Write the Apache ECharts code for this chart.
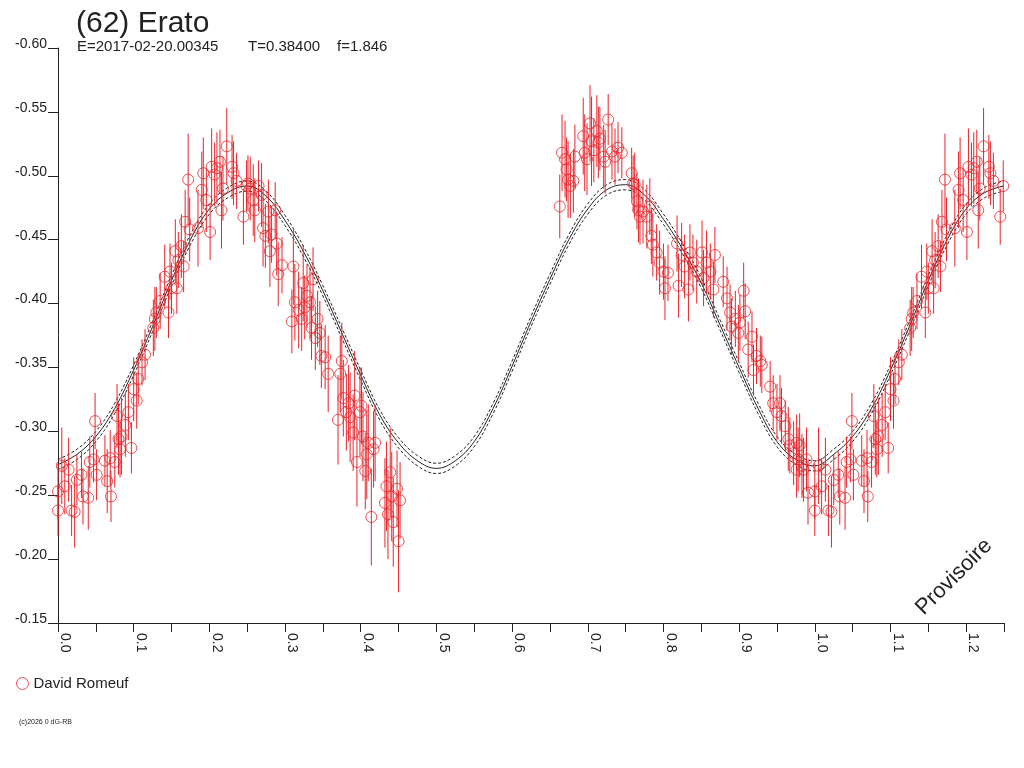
<!DOCTYPE html>
<html>
<head>
<meta charset="utf-8">
<title>(62) Erato</title>
<script src="https://cdn.jsdelivr.net/npm/echarts@6/dist/echarts.min.js"></script>
<style>
  html, body { margin: 0; padding: 0; background: #fff; }
  #chart { width: 1024px; height: 768px; }
</style>
</head>
<body>
<div id="chart"></div>
<script>
// observations (phase 0..1), magnitude, error
const obsPhase = [
  0.000, 0.000, 0.005, 0.009, 0.014, 0.018, 0.022, 0.025, 0.031, 0.033, 0.040, 0.042, 0.047, 0.049, 0.051, 0.062,
  0.065, 0.069, 0.070, 0.075, 0.078, 0.080, 0.082, 0.084, 0.089, 0.093, 0.097, 0.100, 0.104, 0.106, 0.111, 0.115,
  0.126, 0.128, 0.130, 0.135, 0.141, 0.146, 0.148, 0.150, 0.155, 0.157, 0.159, 0.163, 0.166, 0.168, 0.172, 0.174,
  0.185, 0.190, 0.192, 0.196, 0.201, 0.203, 0.207, 0.210, 0.214, 0.216, 0.218, 0.223, 0.230, 0.232, 0.236, 0.245, 0.249,
  0.251, 0.254, 0.258, 0.260, 0.265, 0.269, 0.271, 0.274, 0.278, 0.280, 0.282, 0.287, 0.289, 0.291, 0.296, 0.309,
  0.311, 0.313, 0.318, 0.322, 0.324, 0.326, 0.329, 0.333, 0.335, 0.337, 0.340, 0.343, 0.346, 0.348, 0.353, 0.357,
  0.370, 0.373, 0.375, 0.377, 0.381, 0.384, 0.386, 0.390, 0.392, 0.395, 0.399, 0.401, 0.403, 0.406, 0.408, 0.410,
  0.414, 0.417, 0.419, 0.432, 0.434, 0.436, 0.439, 0.441, 0.443, 0.448, 0.450, 0.452,
  0.663, 0.666, 0.670, 0.672, 0.674, 0.677, 0.681, 0.683, 0.694, 0.696, 0.699, 0.703, 0.705, 0.708, 0.712, 0.714,
  0.716, 0.721, 0.723, 0.727, 0.732, 0.736, 0.740, 0.745, 0.758, 0.760, 0.762, 0.765, 0.767, 0.769, 0.773, 0.778,
  0.782, 0.784, 0.786, 0.791, 0.795, 0.800, 0.802, 0.806, 0.818, 0.820, 0.824, 0.828, 0.833, 0.835, 0.839, 0.844,
  0.851, 0.853, 0.857, 0.862, 0.866, 0.868, 0.879, 0.884, 0.888, 0.890, 0.895, 0.899, 0.901, 0.906, 0.908, 0.912,
  0.917, 0.919, 0.923, 0.928, 0.930, 0.941, 0.945, 0.950, 0.954, 0.956, 0.961, 0.965, 0.967, 0.972, 0.976, 0.978,
  0.976, 0.980, 0.983, 0.985, 0.989, 0.991
];
const obsMag = [
  -0.238, -0.253, -0.273, -0.257, -0.270, -0.238, -0.237, -0.262, -0.266, -0.249, -0.248, -0.276, -0.278, -0.308, -0.266, -0.277,
  -0.261, -0.279, -0.249, -0.276, -0.312, -0.294, -0.286, -0.296, -0.305, -0.315, -0.287, -0.333, -0.324, -0.341, -0.354, -0.360,
  -0.381, -0.388, -0.393, -0.402, -0.421, -0.393, -0.425, -0.412, -0.441, -0.412, -0.434, -0.445, -0.429, -0.464, -0.497, -0.458,
  -0.459, -0.489, -0.502, -0.481, -0.456, -0.507, -0.501, -0.506, -0.511, -0.473, -0.490, -0.523, -0.507, -0.502, -0.496, -0.468, -0.492,
  -0.494, -0.490, -0.481, -0.473, -0.492, -0.485, -0.459, -0.453, -0.472, -0.441, -0.454, -0.473, -0.447, -0.423, -0.430, -0.386,
  -0.429, -0.401, -0.395, -0.388, -0.416, -0.397, -0.406, -0.401, -0.381, -0.419, -0.373, -0.388, -0.377, -0.359, -0.358, -0.345,
  -0.309, -0.345, -0.355, -0.326, -0.315, -0.322, -0.311, -0.299, -0.328, -0.276, -0.315, -0.320, -0.296, -0.269, -0.282, -0.291,
  -0.233, -0.286, -0.291, -0.244, -0.257, -0.235, -0.268, -0.249, -0.229, -0.255, -0.214, -0.246,
  -0.476, -0.518, -0.513, -0.505, -0.497, -0.492, -0.496, -0.515, -0.531, -0.518, -0.513, -0.541, -0.527, -0.520, -0.535, -0.526,
  -0.529, -0.515, -0.511, -0.544, -0.519, -0.515, -0.522, -0.518, -0.502, -0.494, -0.493, -0.480, -0.473, -0.468, -0.472, -0.468,
  -0.476, -0.453, -0.446, -0.440, -0.432, -0.425, -0.412, -0.424, -0.447, -0.414, -0.438, -0.429, -0.411, -0.440, -0.432, -0.425,
  -0.440, -0.420, -0.432, -0.425, -0.411, -0.438, -0.417, -0.404, -0.393, -0.382, -0.388, -0.377, -0.385, -0.410, -0.394, -0.364,
  -0.374, -0.348, -0.359, -0.355, -0.352, -0.335, -0.322, -0.315, -0.322, -0.312, -0.304, -0.294, -0.289, -0.283, -0.291, -0.278,
  -0.270, -0.289, -0.273, -0.270, -0.278, -0.252
];
const obsErr = [
  0.020, 0.022, 0.030, 0.022, 0.025, 0.020, 0.028, 0.020, 0.018, 0.022, 0.025, 0.020, 0.018, 0.022, 0.020, 0.020,
  0.025, 0.022, 0.020, 0.020, 0.025, 0.028, 0.022, 0.030, 0.025, 0.022, 0.020, 0.025, 0.022, 0.020, 0.018, 0.020,
  0.022, 0.025, 0.020, 0.022, 0.025, 0.020, 0.022, 0.020, 0.025, 0.020, 0.022, 0.025, 0.020, 0.025, 0.036, 0.025,
  0.030, 0.030, 0.028, 0.025, 0.022, 0.030, 0.025, 0.028, 0.025, 0.030, 0.025, 0.030, 0.025, 0.025, 0.022, 0.022, 0.020,
  0.022, 0.025, 0.028, 0.025, 0.020, 0.025, 0.030, 0.025, 0.025, 0.028, 0.022, 0.022, 0.025, 0.025, 0.022, 0.025,
  0.030, 0.030, 0.030, 0.025, 0.030, 0.025, 0.025, 0.028, 0.025, 0.025, 0.025, 0.022, 0.025, 0.025, 0.025, 0.030,
  0.035, 0.030, 0.030, 0.030, 0.030, 0.030, 0.035, 0.030, 0.035, 0.035, 0.035, 0.030, 0.035, 0.030, 0.035, 0.030,
  0.038, 0.030, 0.030, 0.035, 0.035, 0.035, 0.035, 0.035, 0.035, 0.030, 0.040, 0.030,
  0.025, 0.030, 0.030, 0.025, 0.030, 0.025, 0.025, 0.025, 0.030, 0.030, 0.028, 0.030, 0.035, 0.025, 0.028, 0.028,
  0.025, 0.025, 0.025, 0.020, 0.022, 0.022, 0.020, 0.020, 0.020, 0.022, 0.025, 0.022, 0.025, 0.022, 0.025, 0.025,
  0.022, 0.022, 0.025, 0.022, 0.025, 0.022, 0.025, 0.022, 0.022, 0.025, 0.025, 0.025, 0.025, 0.022, 0.022, 0.025,
  0.025, 0.022, 0.025, 0.022, 0.022, 0.022, 0.020, 0.025, 0.022, 0.022, 0.022, 0.022, 0.022, 0.022, 0.022, 0.022,
  0.020, 0.020, 0.022, 0.020, 0.022, 0.020, 0.022, 0.022, 0.022, 0.022, 0.020, 0.025, 0.022, 0.025, 0.022, 0.025,
  0.022, 0.025, 0.025, 0.025, 0.025, 0.025
];

// fitted light curve
const modelPhase = [
  0.000, 0.025, 0.050, 0.075, 0.100, 0.125, 0.150, 0.175, 0.200, 0.225, 0.250, 0.275, 0.300, 0.325, 0.350, 0.375, 0.400,
  0.425, 0.450, 0.475, 0.500, 0.525, 0.550, 0.575, 0.600, 0.625, 0.650, 0.675, 0.700, 0.725, 0.750, 0.775, 0.800,
  0.825, 0.850, 0.875, 0.900, 0.925, 0.950, 0.975, 1.000, 1.025, 1.050, 1.075, 1.100, 1.125, 1.150, 1.175, 1.200, 1.225, 1.250
];
const modelMid = [
  -0.274, -0.282, -0.296, -0.318, -0.348, -0.382, -0.418, -0.450, -0.474, -0.487, -0.492, -0.484, -0.465, -0.440, -0.410, -0.377, -0.344,
  -0.313, -0.291, -0.277, -0.271, -0.277, -0.292, -0.318, -0.351, -0.386, -0.419, -0.450, -0.474, -0.489, -0.493, -0.485, -0.466,
  -0.443, -0.416, -0.383, -0.350, -0.318, -0.292, -0.278, -0.273, -0.282, -0.296, -0.318, -0.348, -0.382, -0.418, -0.450, -0.474, -0.487, -0.492
];
const modelUp = [
  -0.278, -0.286, -0.300, -0.322, -0.352, -0.386, -0.422, -0.454, -0.478, -0.491, -0.496, -0.488, -0.469, -0.444, -0.414, -0.381, -0.348,
  -0.317, -0.295, -0.281, -0.275, -0.281, -0.296, -0.322, -0.355, -0.390, -0.423, -0.454, -0.478, -0.493, -0.497, -0.489, -0.470,
  -0.447, -0.420, -0.387, -0.354, -0.322, -0.296, -0.282, -0.277, -0.286, -0.300, -0.322, -0.352, -0.386, -0.422, -0.454, -0.478, -0.491, -0.496
];
const modelLow = [
  -0.270, -0.278, -0.292, -0.314, -0.344, -0.378, -0.414, -0.446, -0.470, -0.483, -0.488, -0.480, -0.461, -0.436, -0.406, -0.373, -0.340,
  -0.309, -0.287, -0.273, -0.267, -0.273, -0.288, -0.314, -0.347, -0.382, -0.415, -0.446, -0.470, -0.485, -0.489, -0.481, -0.462,
  -0.439, -0.412, -0.379, -0.346, -0.314, -0.288, -0.274, -0.269, -0.278, -0.292, -0.314, -0.344, -0.378, -0.414, -0.446, -0.470, -0.483, -0.488
];

const RED = '#e8242b';
const INK = '#222';
const FONT = 'Liberation Sans, Arial, sans-serif';

// folded curve: points before phase 0.25 are shown again one period later
const obs = [];
obsPhase.forEach((p, i) => {
  obs.push([p, obsMag[i], obsErr[i]]);
});
obsPhase.forEach((p, i) => {
  if (p <= 0.25) obs.push([p + 1, obsMag[i], obsErr[i]]);
});

const pairs = arr => modelPhase.map((p, i) => [p, arr[i]]);

const modelLine = (data, dashed) => ({
  type: 'line',
  data: data,
  smooth: 0.4,
  showSymbol: false,
  silent: true,
  z: 1,
  lineStyle: { color: INK, width: 1, type: dashed ? [3, 2] : 'solid' }
});

var myChart = echarts.init(document.getElementById('chart'));
const option = {
  animation: false,
  backgroundColor: '#fff',
  title: {
    text: '(62) Erato',
    left: 76,
    top: 9,
    padding: 0,
    textStyle: { fontFamily: FONT, fontSize: 30, fontWeight: 'normal', color: INK }
  },
  legend: {
    data: [{ name: 'David Romeuf', icon: 'circle' }],
    left: 16,
    top: 676,
    padding: 0,
    itemWidth: 12,
    itemHeight: 12,
    itemStyle: { color: 'transparent', borderColor: RED, borderWidth: 1 },
    textStyle: { fontFamily: FONT, fontSize: 15, color: INK }
  },
  grid: { left: 58, right: 20, top: 48, bottom: 145, containLabel: false },
  xAxis: {
    type: 'value',
    min: 0,
    max: 1.25,
    interval: 0.05,
    splitLine: { show: false },
    axisLine: { lineStyle: { color: INK, width: 1 } },
    axisTick: { length: 9, lineStyle: { color: INK } },
    axisLabel: {
      rotate: -90,
      margin: 10,
      verticalAlign: 'bottom',
      fontFamily: FONT,
      fontSize: 14,
      color: INK,
      formatter: v => (Math.round(v * 100) % 10 === 0 ? v.toFixed(1) : '')
    }
  },
  yAxis: {
    type: 'value',
    inverse: true,
    min: -0.60,
    max: -0.15,
    interval: 0.05,
    splitLine: { show: false },
    axisLine: { show: true, lineStyle: { color: INK, width: 1 } },
    axisTick: { show: true, length: 10, lineStyle: { color: INK } },
    axisLabel: {
      margin: 11,
      verticalAlign: 'bottom',
      lineHeight: 8,
      fontFamily: FONT,
      fontSize: 14,
      color: INK,
      formatter: v => v.toFixed(2)
    }
  },
  series: [
    modelLine(pairs(modelUp), true),
    modelLine(pairs(modelMid), false),
    modelLine(pairs(modelLow), true),
    {
      type: 'custom',
      name: 'errbars',
      data: obs,
      z: 2,
      silent: true,
      encode: { x: 0, y: 1 },
      renderItem: function (params, api) {
        const x = api.value(0), m = api.value(1), e = api.value(2);
        const a = api.coord([x, m - e]);
        const b = api.coord([x, m + e]);
        return {
          type: 'line',
          shape: { x1: a[0], y1: a[1], x2: b[0], y2: b[1] },
          style: { stroke: RED, lineWidth: 1 }
        };
      }
    },
    {
      type: 'scatter',
      name: 'David Romeuf',
      data: obs,
      z: 3,
      symbol: 'circle',
      symbolSize: 11,
      itemStyle: { color: 'transparent', borderColor: RED, borderWidth: 1 }
    }
  ],
  graphic: [
    {
      type: 'text', left: 77, top: 39,
      style: { text: 'E=2017-02-20.00345', fontFamily: FONT, fontSize: 15, fill: INK }
    },
    {
      type: 'text', left: 248, top: 39,
      style: { text: 'T=0.38400', fontFamily: FONT, fontSize: 15, fill: INK }
    },
    {
      type: 'text', left: 337, top: 39,
      style: { text: 'f=1.846', fontFamily: FONT, fontSize: 15, fill: INK }
    },
    {
      type: 'text', left: 19, top: 719,
      style: { text: '(c)2026 0 dG-RB', fontFamily: FONT, fontSize: 7, fill: INK }
    },
    {
      type: 'text',
      x: 954, y: 577,
      rotation: Math.PI / 4,
      style: {
        text: 'Provisoire', fontFamily: FONT, fontSize: 22, fill: INK,
        align: 'center', verticalAlign: 'middle'
      }
    }
  ]
};
myChart.setOption(option);
</script>
</body>
</html>
